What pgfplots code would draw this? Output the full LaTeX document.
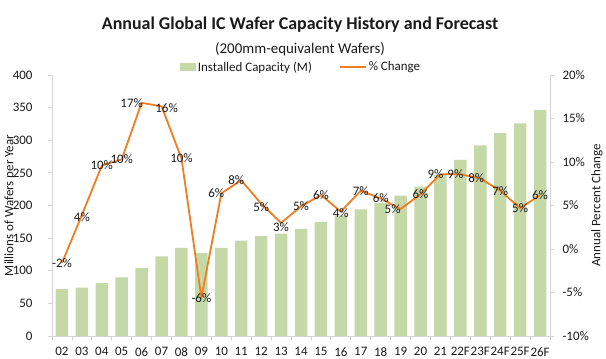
\documentclass[border=0pt]{standalone}
\usepackage{pgfplots}
\usepackage{pgfplotstable}
\pgfplotsset{compat=1.18}
\usepackage{fontspec}
\setmainfont{Carlito}
\definecolor{bargreen}{HTML}{C5D9A8}
\definecolor{lineorange}{HTML}{EF7D22}
\definecolor{axgray}{HTML}{D4D4D4}
\definecolor{txt}{HTML}{1A1A1A}
\pgfplotsset{/pgf/number format/assume math mode=true}

\pgfplotstableread{
i lab cap pct dx dy
0 02 72 -1.6 0 0
1 03 74 3.9 0 -2
2 04 81 9.6 0 0
3 05 90 10.3 0 0
4 06 104 16.8 -10 0
5 07 122 16.4 5 -2
6 08 135 10.4 0 0
7 09 127 -5.6 0 0
8 10 135 6.4 -5 0
9 11 146 7.9 -5 0
10 12 153 5.2 0 -3
11 13 157 3.0 0 -4
12 14 164 4.9 0 0
13 15 175 6.2 0 0
14 16 185 4.3 0 -2
15 17 194 6.7 0 0
16 18 204 5.8 0 0
17 19 215 4.6 -8 0
18 20 229 6.3 0 0
19 21 247 8.6 -5 0
20 22F 270 8.6 -5 0
21 23F 292 8.1 -4 0
22 24F 311 6.7 0 0
23 25F 326 4.7 0 0
24 26F 346 6.2 0 0
}\datatable

\begin{document}
\begin{tikzpicture}
\path[use as bounding box, clip] (0bp,0bp) rectangle (606bp,359bp);
\node[font=\bfseries\fontsize{18}{21}\selectfont, text=txt] at (300bp,334bp) {Annual Global IC Wafer Capacity History and Forecast};
\node[font=\fontsize{15}{18}\selectfont, text=txt] at (300bp,310bp) {(200mm-equivalent Wafers)};

\begin{axis}[
  at={(52bp,23bp)}, anchor=south west, scale only axis,
  width=498bp, height=261bp,
  xmin=-0.5, xmax=24.5, ymin=0, ymax=400,
  axis y line*=left, axis x line*=bottom,
  axis line style={axgray, line width=0.8bp},
  tick style={axgray, line width=0.8bp},
  tick align=outside, major tick length=4bp,
  xtick={-0.5,0.5,...,24.5},
  x tick label as interval,
  xticklabels={02,03,04,05,06,07,08,09,10,11,12,13,14,15,16,17,18,19,20,21,22F,23F,24F,25F,26F},
  xticklabel style={yshift=-4bp},
  ytick={0,50,...,400},
  yticklabel style={xshift=-12bp},
  tick label style={font=\fontsize{13}{15}\selectfont, text=txt},
  ylabel={Millions of Wafers per Year},
  ylabel style={at={(axis description cs:-0.0843,0.5)}, anchor=center, font=\fontsize{13}{15}\selectfont, text=txt},
  legend columns=2,
  legend style={at={(0.5,1.03)}, anchor=center, draw=none, fill=none,
    font=\fontsize{13}{15}\selectfont, text=txt,
    /tikz/every even column/.append style={column sep=25bp}},
]
\addplot[ybar, bar width=12.5bp, bar shift=0pt, fill=bargreen, draw=none,
  legend image code/.code={\fill[bargreen] (0bp,-4bp) rectangle (16bp,4bp);}]
  table[x=i, y=cap]{\datatable};
\addlegendentry{Installed Capacity (M)}
\addlegendimage{legend image code/.code={\draw[lineorange, line width=1.8bp] (0bp,0bp) -- (26bp,0bp);}}
\addlegendentry{\% Change}
\end{axis}

\begin{axis}[
  at={(52bp,23bp)}, anchor=south west, scale only axis,
  width=498bp, height=261bp,
  xmin=-0.5, xmax=24.5, ymin=-10, ymax=20,
  axis y line*=right, axis x line=none,
  axis line style={axgray, line width=0.8bp},
  tick style={axgray, line width=0.8bp},
  tick align=outside, major tick length=4bp,
  ytick={-10,-5,...,20},
  yticklabel={\pgfmathprintnumber{\tick}\%},
  yticklabel style={xshift=5bp},
  tick label style={font=\fontsize{13}{15}\selectfont, text=txt},
  ylabel={Annual Percent Change},
  ylabel style={at={(axis description cs:1.0944,0.5)}, anchor=center, font=\fontsize{13}{15}\selectfont, text=txt},
]
\addplot[lineorange, line width=1.8bp, line join=round, mark=none,
  point meta=explicit,
  visualization depends on={\thisrow{dx} \as \ldx},
  visualization depends on={\thisrow{dy} \as \ldy},
  nodes near coords={\pgfmathprintnumber[fixed,precision=0]{\pgfplotspointmeta}\%},
  every node near coord/.append style={anchor=center, xshift=\ldx*1bp, yshift=\ldy*1bp, font=\fontsize{13}{15}\selectfont, text=txt}]
  table[x=i, y=pct, meta=pct]{\datatable};
\end{axis}
\end{tikzpicture}
\end{document}
